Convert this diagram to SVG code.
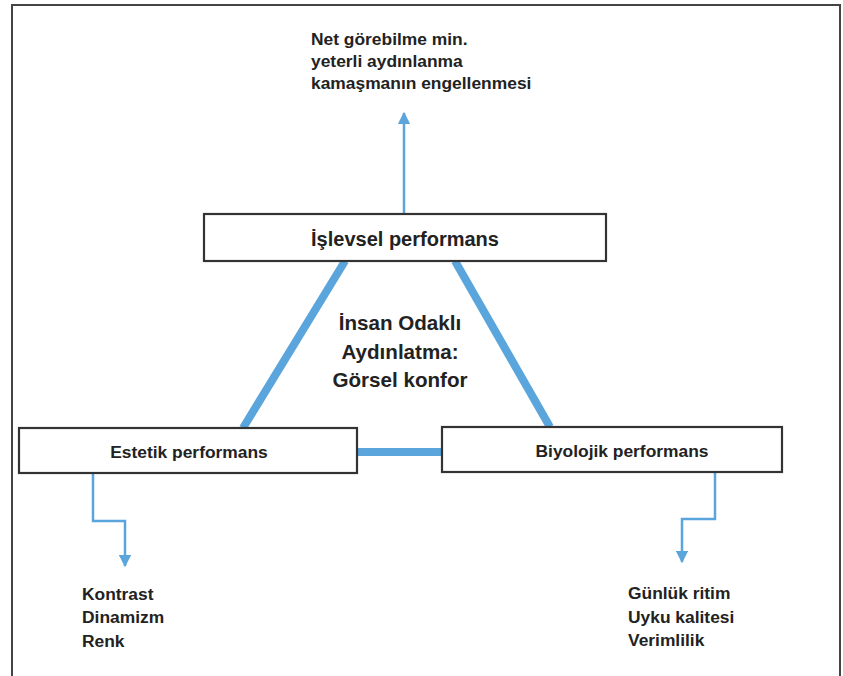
<svg xmlns="http://www.w3.org/2000/svg" width="843" height="676" viewBox="0 0 843 676">
<defs>
<style>
.box{fill:#fff;stroke:#333;stroke-width:2.2}
.t{font-family:"Liberation Sans",Arial,sans-serif;font-weight:bold;fill:#222}
.lab{font-size:17.4px;text-anchor:middle}
.note{font-size:17.4px}
.thin{fill:none;stroke:#5ba5dd;stroke-width:2.5}
.thick{fill:none;stroke:#5ba5dd;stroke-width:8}
</style>
<marker id="ah" viewBox="0 0 10 10" refX="9" refY="5" markerWidth="5" markerHeight="5" orient="auto" markerUnits="strokeWidth">
<path d="M0,0 L10,5 L0,10 Z" fill="#5ba5dd"/>
</marker>
</defs>
<rect width="843" height="676" fill="#fff"/>
<path d="M12,676 V5 H840 V676" fill="none" stroke="#444" stroke-width="2"/>
<g id="connectors">
<line class="thick" x1="345" y1="261" x2="243" y2="428"/>
<line class="thick" x1="455" y1="261" x2="550" y2="427"/>
<line class="thick" x1="357" y1="452" x2="442" y2="452"/>
<line class="thin" x1="404" y1="213" x2="404" y2="113" marker-end="url(#ah)"/>
<path class="thin" d="M93,473 V521 H125 V566" marker-end="url(#ah)"/>
<path class="thin" d="M715,472 V519 H682 V562" marker-end="url(#ah)"/>
</g>
<g id="islevsel">
<rect class="box" x="204" y="214" width="402" height="47"/>
<text class="t lab" x="405" y="246" style="font-size:20px">İşlevsel performans</text>
</g>
<g id="estetik">
<rect class="box" x="19" y="428" width="338" height="45"/>
<text class="t lab" x="189" y="458">Estetik performans</text>
</g>
<g id="biyolojik">
<rect class="box" x="442" y="427" width="340" height="45"/>
<text class="t lab" x="622" y="457">Biyolojik performans</text>
</g>
<g id="center">
<text class="t" x="400" y="330" text-anchor="middle" style="font-size:20.6px">İnsan Odaklı</text>
<text class="t" x="400" y="359" text-anchor="middle" style="font-size:20.6px">Aydınlatma:</text>
<text class="t" x="400" y="387" text-anchor="middle" style="font-size:20.6px">Görsel konfor</text>
</g>
<g id="top-note">
<text class="t note" x="311" y="45">Net görebilme min.</text>
<text class="t note" x="311" y="67">yeterli aydınlanma</text>
<text class="t note" x="311" y="89">kamaşmanın engellenmesi</text>
</g>
<g id="left-note">
<text class="t note" x="82" y="600">Kontrast</text>
<text class="t note" x="82" y="623">Dinamizm</text>
<text class="t note" x="82" y="647">Renk</text>
</g>
<g id="right-note">
<text class="t note" x="628" y="599">Günlük ritim</text>
<text class="t note" x="628" y="623">Uyku kalitesi</text>
<text class="t note" x="628" y="646">Verimlilik</text>
</g>
</svg>
